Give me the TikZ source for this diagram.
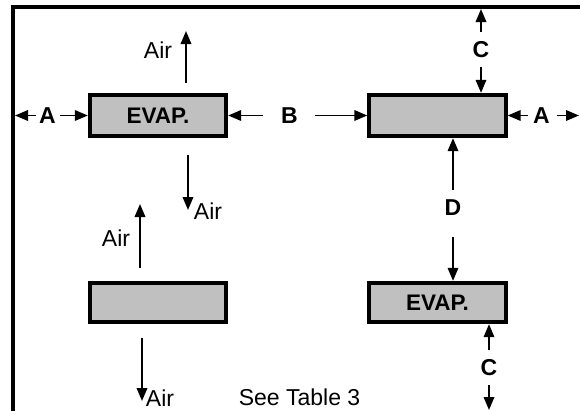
\documentclass[tikz,border=0pt]{standalone}
\usepackage{fontspec}
\setmainfont{Liberation Sans}
\usetikzlibrary{arrows.meta}
\definecolor{boxgray}{RGB}{192,192,192}
\begin{document}
\begin{tikzpicture}[x=1pt,y=-1pt,
  box/.style={draw,line width=3.8pt,fill=boxgray,minimum width=136.5pt,inner sep=0pt,
    font=\fontsize{22.5}{26}\selectfont\bfseries},
  lbl/.style={font=\fontsize{23}{26}\selectfont\bfseries,inner sep=0pt},
  airtxt/.style={font=\fontsize{23}{26}\selectfont,inner sep=0pt},
  arr/.style={line width=1.8pt,-{Triangle[length=13pt,width=10.5pt]}},
  framel/.style={line width=4pt,line join=miter}]
\useasboundingbox (0,0) rectangle (580,410);
% frame
\coordinate (fb) at (13,412);
\coordinate (fc) at (13,7);
\coordinate (fr) at (582,7);
\draw[framel] (fb) -- (fc) -- (fr);
% boxes
\node[box,minimum height=41.5pt] (e1) at (158,115.5) {EVAP.};
\node[box,minimum height=41.5pt] (b2) at (437.5,115.5) {};
\node[box,minimum height=39.5pt] (b3) at (158,302.5) {};
\node[box,minimum height=39.5pt] (e4) at (437.5,302.5) {EVAP.};
% Air arrows, top-left box
\coordinate (a1s) at (186,83);
\coordinate (a1e) at (186,31);
\draw[arr] (a1s) -- (a1e);
\node[airtxt] (air1) at (158,50) {Air};
\coordinate (a2s) at (188,155);
\coordinate (a2e) at (188,210);
\draw[arr] (a2s) -- (a2e);
\node[airtxt] (air2) at (208,211) {Air};
% Air arrows, bottom-left box
\coordinate (a3s) at (140,268);
\coordinate (a3e) at (140,204);
\draw[arr] (a3s) -- (a3e);
\node[airtxt] (air3) at (116,238) {Air};
\coordinate (a4s) at (142,338);
\coordinate (a4e) at (142,401);
\draw[arr] (a4s) -- (a4e);
\node[airtxt] (air4) at (160,398) {Air};
\node[airtxt] (see) at (299.5,397) {See Table 3};
% A left
\node[lbl] (A1) at (47.5,116) {A};
\coordinate (A1l) at (36,115.5);
\coordinate (A1r) at (60,115.5);
\coordinate (fA) at (15,115.5);
\draw[arr] (A1l) -- (fA);
\draw[arr] (A1r) -- (e1.west);
% B
\node[lbl] (B) at (289.5,116) {B};
\coordinate (Bl) at (263,115.5);
\coordinate (Br) at (315,115.5);
\draw[arr] (Bl) -- (e1.east);
\draw[arr] (Br) -- (b2.west);
% A right
\node[lbl] (A2) at (541.5,116) {A};
\coordinate (A2l) at (528,115.5);
\coordinate (A2r) at (557,115.5);
\coordinate (fR) at (579,115.5);
\draw[arr] (A2l) -- (b2.east);
\draw[arr] (A2r) -- (fR);
% C top
\node[lbl] (C1) at (481,50) {C};
\coordinate (C1u) at (481,32);
\coordinate (C1d) at (481,67);
\coordinate (fT) at (481,9);
\draw[arr] (C1u) -- (fT);
\draw[arr] (C1d) -- (C1d |- b2.north);
% D
\node[lbl] (D) at (453,208) {D};
\coordinate (Du) at (453,190);
\coordinate (Dd) at (453,237);
\draw[arr] (Du) -- (Du |- b2.south);
\draw[arr] (Dd) -- (Dd |- e4.north);
% C bottom
\node[lbl] (C2) at (489,368) {C};
\coordinate (C2u) at (489,350);
\coordinate (C2d) at (489,385);
\coordinate (fBot) at (489,410);
\draw[arr] (C2u) -- (C2u |- e4.south);
\draw[arr] (C2d) -- (fBot);
\end{tikzpicture}
\end{document}
